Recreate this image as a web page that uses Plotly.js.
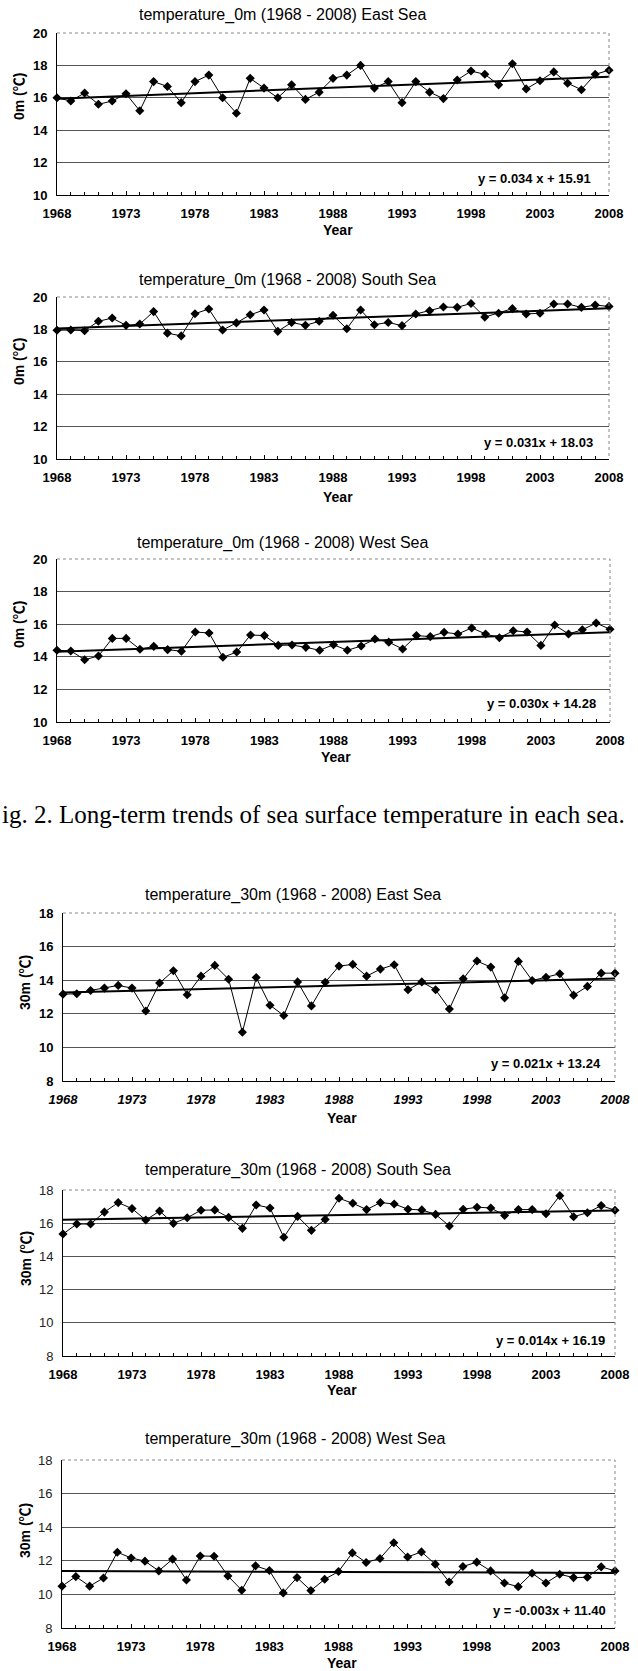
<!DOCTYPE html>
<html><head><meta charset="utf-8">
<script src="https://cdn.plot.ly/plotly-3.0.1.min.js"></script>
<style>html,body{margin:0;padding:0;background:#fff;overflow:hidden;} #chart{width:638px;height:1671px;}</style>
</head><body><div id="chart"></div>
<script>
// ---------------- data ----------------
const years = [1968,1969,1970,1971,1972,1973,1974,1975,1976,1977,1978,1979,1980,1981,1982,1983,1984,1985,1986,1987,1988,
               1989,1990,1991,1992,1993,1994,1995,1996,1997,1998,1999,2000,2001,2002,2003,2004,2005,2006,2007,2008];

const east0m  = [16.0,15.8,16.3,15.6,15.8,16.25,15.2,17.0,16.7,15.7,17.0,17.4,16.0,15.05,17.2,16.6,16.0,16.8,15.9,16.35,17.2,
                 17.4,18.0,16.6,17.0,15.7,17.0,16.35,15.95,17.1,17.65,17.45,16.8,18.1,16.55,17.05,17.6,16.9,16.5,17.45,17.7];
const south0m = [17.95,17.96,17.92,18.5,18.7,18.25,18.33,19.1,17.77,17.6,18.97,19.26,17.96,18.4,18.9,19.2,17.88,18.43,18.25,18.5,18.87,
                 18.04,19.2,18.29,18.43,18.23,18.95,19.15,19.38,19.36,19.6,18.76,19.0,19.28,18.95,19.0,19.57,19.57,19.36,19.5,19.42];
const west0m  = [14.4,14.36,13.82,14.05,15.13,15.13,14.46,14.64,14.44,14.34,15.52,15.46,13.97,14.29,15.34,15.3,14.7,14.72,14.58,14.4,14.74,
                 14.4,14.66,15.09,14.9,14.48,15.3,15.24,15.5,15.4,15.77,15.4,15.17,15.6,15.52,14.7,15.95,15.4,15.66,16.07,15.69];
const east30m = [13.17,13.19,13.39,13.53,13.69,13.53,12.17,13.83,14.56,13.13,14.24,14.88,14.06,10.9,14.16,12.51,11.9,13.9,12.47,13.88,14.84,
                 14.94,14.24,14.66,14.92,13.43,13.9,13.43,12.29,14.08,15.14,14.78,12.95,15.12,13.98,14.18,14.38,13.11,13.63,14.42,14.42];
const south30m= [15.35,15.95,15.95,16.67,17.24,16.88,16.19,16.73,15.99,16.33,16.78,16.8,16.35,15.69,17.1,16.92,15.15,16.41,15.57,16.23,17.5,
                 17.2,16.82,17.24,17.16,16.84,16.8,16.53,15.83,16.84,16.96,16.92,16.47,16.82,16.82,16.57,17.66,16.39,16.63,17.06,16.78];
const west30m = [10.49,11.06,10.49,10.98,12.51,12.17,11.98,11.4,12.1,10.86,12.29,12.27,11.1,10.25,11.7,11.42,10.09,11.0,10.23,10.9,11.36,
                 12.47,11.9,12.14,13.07,12.23,12.53,11.8,10.74,11.66,11.92,11.4,10.68,10.46,11.26,10.68,11.2,11.0,11.02,11.64,11.4];

const trendSlopes     = [0.034, 0.031, 0.030, 0.021, 0.014, -0.003];
const trendIntercepts = [15.91, 18.03, 14.28, 13.24, 16.19, 11.40];

const panelTitles = [
  "temperature_0m (1968 - 2008) East Sea",
  "temperature_0m (1968 - 2008) South Sea",
  "temperature_0m (1968 - 2008) West Sea",
  "temperature_30m (1968 - 2008) East Sea",
  "temperature_30m (1968 - 2008) South Sea",
  "temperature_30m (1968 - 2008) West Sea"
];
const equationLabels = [
  "y = 0.034 x + 15.91",
  "y = 0.031x + 18.03",
  "y = 0.030x + 14.28",
  "y = 0.021x + 13.24",
  "y = 0.014x + 16.19",
  "y = -0.003x + 11.40"
];
const yTitles = ["0m (℃)","0m (℃)","0m (℃)","30m (℃)","30m (℃)","30m (℃)"];
const xTitle = "Year";
const yRanges = [[10,20],[10,20],[10,20],[8,18],[8,18],[8,18]];
const captionText = "ig. 2. Long-term trends of sea surface temperature in each sea.";

const seriesList = [east0m, south0m, west0m, east30m, south30m, west30m];

// ---------------- layout (pixels) ----------------
const W = 638, H = 1671;
const panels = [
  {x0:57,x1:609,y0:33,y1:195,  tx:137,ty:15,   yx:19,yy:97,   ax:338,ay:230,  ex:593,ey:178,  xItalic:false, yBold:true},
  {x0:57,x1:609,y0:297,y1:459, tx:137,ty:280,  yx:19,yy:362,  ax:338,ay:497,  ex:595,ey:442,  xItalic:false, yBold:true},
  {x0:57,x1:610,y0:559,y1:722, tx:135,ty:543,  yx:19,yy:625,  ax:336,ay:757,  ex:598,ey:703,  xItalic:false, yBold:true},
  {x0:63,x1:615,y0:913,y1:1081,tx:143,ty:895,  yx:25,yy:983,  ax:342,ay:1118, ex:603,ey:1063, xItalic:true,  yBold:true},
  {x0:63,x1:615,y0:1190,y1:1356,tx:143,ty:1170,yx:26,yy:1259, ax:342,ay:1390, ex:607,ey:1340, xItalic:false, yBold:false},
  {x0:62,x1:615,y0:1460,y1:1628,tx:143,ty:1439,yx:25,yy:1531, ax:342,ay:1663, ex:608,ey:1610, xItalic:false, yBold:false}
];
const SANS = "Liberation Sans, Arial, Noto Sans CJK KR, sans-serif";
const px = x => x / W;
const py = y => 1 - y / H;

const traces = [];
const layout = {
  width: W, height: H,
  margin: {l:0,r:0,t:0,b:0},
  paper_bgcolor: '#fff', plot_bgcolor: '#fff',
  showlegend: false,
  annotations: [], shapes: []
};

panels.forEach((p, k) => {
  const n = k + 1;
  const xa = n === 1 ? 'x' : 'x' + n;
  const ya = n === 1 ? 'y' : 'y' + n;
  const xKey = n === 1 ? 'xaxis' : 'xaxis' + n;
  const yKey = n === 1 ? 'yaxis' : 'yaxis' + n;
  const data = seriesList[k];

  traces.push({
    x: years, y: data, xaxis: xa, yaxis: ya, type: 'scatter', mode: 'lines+markers',
    line: {color: '#000', width: 1},
    marker: {symbol: 'diamond', size: 7, color: '#000'},
    cliponaxis: false, hoverinfo: 'skip'
  });
  const xs = [years[0], years[years.length - 1]];
  const ys = [trendSlopes[k] * 1 + trendIntercepts[k], trendSlopes[k] * years.length + trendIntercepts[k]];
  traces.push({
    x: xs, y: ys, xaxis: xa, yaxis: ya, type: 'scatter', mode: 'lines',
    line: {color: '#000', width: 2}, cliponaxis: false, hoverinfo: 'skip'
  });

  layout[xKey] = {
    domain: [px(p.x0), px(p.x1)], anchor: ya,
    range: [years[0], years[years.length - 1]],
    tickmode: 'linear', tick0: years[0], dtick: 5,
    ticks: 'inside', ticklen: 4, tickcolor: '#000', tickwidth: 1,
    minor: {tickmode: 'linear', tick0: years[0], dtick: 1, ticks: 'inside', ticklen: 3, tickcolor: '#000', showgrid: false},
    showgrid: false, zeroline: false,
    showline: true, linecolor: '#000', linewidth: 1,
    ticklabelstandoff: 6,
    tickfont: {family: SANS, size: 13, color: '#000', weight: 'bold', style: p.xItalic ? 'italic' : 'normal'},
    fixedrange: true
  };
  layout[yKey] = {
    domain: [py(p.y1), py(p.y0)], anchor: xa,
    range: yRanges[k], tickmode: 'linear', tick0: yRanges[k][0], dtick: 2,
    ticks: '', showgrid: true, gridcolor: '#555', gridwidth: 1,
    zeroline: false, showline: true, linecolor: '#000', linewidth: 1,
    ticklabelstandoff: 6,
    tickfont: {family: SANS, size: 13, color: p.yBold ? '#000' : '#222', weight: p.yBold ? 'bold' : 'normal'},
    fixedrange: true
  };

  // dotted frame on top/right
  layout.shapes.push({
    type: 'path', xref: 'paper', yref: 'paper',
    path: `M ${px(p.x0)} ${py(p.y0)} L ${px(p.x1)} ${py(p.y0)} L ${px(p.x1)} ${py(p.y1)}`,
    line: {color: '#888', width: 1, dash: 'dot'}
  });

  layout.annotations.push(
    {text: panelTitles[k], xref: 'paper', yref: 'paper', x: px(p.tx), y: py(p.ty), xanchor: 'left', yanchor: 'middle',
     showarrow: false, font: {family: SANS, size: 16, color: '#000'}},
    {text: yTitles[k], xref: 'paper', yref: 'paper', x: px(p.yx), y: py(p.yy), xanchor: 'center', yanchor: 'middle',
     textangle: -90, showarrow: false, font: {family: SANS, size: 14, color: '#000', weight: 'bold'}},
    {text: xTitle, xref: 'paper', yref: 'paper', x: px(p.ax), y: py(p.ay), xanchor: 'center', yanchor: 'middle',
     showarrow: false, font: {family: SANS, size: 14, color: '#000', weight: 'bold'}},
    {text: equationLabels[k], xref: 'paper', yref: 'paper', x: px(p.ex), y: py(p.ey), xanchor: 'right', yanchor: 'middle',
     showarrow: false, font: {family: SANS, size: 13, color: '#000', weight: 'bold'}}
  );
});

layout.annotations.push({
  text: captionText, xref: 'paper', yref: 'paper', x: 0, y: py(815), xanchor: 'left', yanchor: 'middle',
  showarrow: false, font: {family: "Liberation Serif, Times New Roman, serif", size: 25, color: '#000'}
});

Plotly.newPlot('chart', traces, layout, {staticPlot: true, displayModeBar: false});
</script>
</body></html>
